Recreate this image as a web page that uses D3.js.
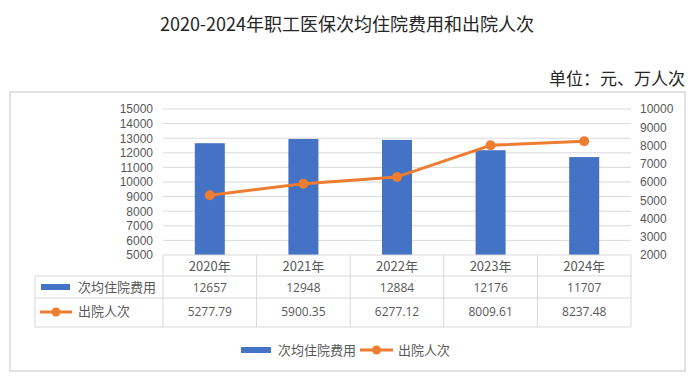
<!DOCTYPE html>
<html><head><meta charset="utf-8">
<script src="https://cdn.jsdelivr.net/npm/d3@7"></script>
<style>body{margin:0;background:#fff;}svg{display:block;}</style>
</head><body>
<svg id="c" width="694" height="378"></svg>
<script>
const categories = ["2020年","2021年","2022年","2023年","2024年"];
const costValues = [12657, 12948, 12884, 12176, 11707];
const dischargeValues = [5277.79, 5900.35, 6277.12, 8009.61, 8237.48];
const costLabels = ["12657","12948","12884","12176","11707"];
const dischargeLabels = ["5277.79","5900.35","6277.12","8009.61","8237.48"];
const leftTicks = d3.range(5000, 15001, 1000);
const rightTicks = d3.range(2000, 10001, 1000);
const seriesNames = ["次均住院费用","出院人次"];

const svg = d3.select("#c");
const blue = "#4472C4", orange = "#ED7D31", grid = "#d9d9d9", txt = "#595959";
const numFont = "'Open Sans', sans-serif";
const axisFont = "'Liberation Sans', Arial, sans-serif";
const cjkFont = "'Noto Sans CJK SC', sans-serif";

// title
svg.append("text").attr("x", 347).attr("y", 31).attr("text-anchor","middle")
  .attr("font-family", cjkFont).attr("font-size", 18).attr("fill","#262626")
  .text("2020-2024年职工医保次均住院费用和出院人次");
svg.append("text").attr("x", 685).attr("y", 85).attr("text-anchor","end")
  .attr("font-family", cjkFont).attr("font-size", 17).attr("fill","#262626")
  .text("单位：元、万人次");

// frame
svg.append("rect").attr("x", 10).attr("y", 92).attr("width", 675).attr("height", 279)
  .attr("fill","none").attr("stroke","#d9d9d9").attr("stroke-width",1.5);

const x = d3.scaleBand().domain(categories).range([163, 631]).paddingInner(0).paddingOuter(0);
const yL = d3.scaleLinear().domain([5000, 15000]).range([255, 109]);
const yR = d3.scaleLinear().domain([2000, 10000]).range([255, 109]);

// gridlines
svg.append("g").selectAll("line").data(leftTicks.slice(1)).join("line")
  .attr("x1", 163).attr("x2", 631).attr("y1", d => yL(d)).attr("y2", d => yL(d))
  .attr("stroke", grid).attr("stroke-width", 1);

// left axis
const gL = svg.append("g").attr("transform","translate(163,0)")
  .call(d3.axisLeft(yL).tickValues(leftTicks).tickSize(0).tickPadding(10).tickFormat(d3.format("d")));
gL.select(".domain").remove();
gL.selectAll("text").attr("font-family", axisFont).attr("font-size", 12).attr("fill", txt);

// right axis
const gR = svg.append("g").attr("transform","translate(631,0)")
  .call(d3.axisRight(yR).tickValues(rightTicks).tickSize(0).tickPadding(9).tickFormat(d3.format("d")));
gR.select(".domain").remove();
gR.selectAll("text").attr("font-family", axisFont).attr("font-size", 12).attr("fill", txt);

// bars
const bw = 30;
svg.append("g").selectAll("rect").data(costValues).join("rect")
  .attr("x", (d,i) => x(categories[i]) + x.bandwidth()/2 - bw/2)
  .attr("width", bw)
  .attr("y", d => yL(d)).attr("height", d => yL(5000) - yL(d))
  .attr("fill", blue);

// line
const line = d3.line().x((d,i) => x(categories[i]) + x.bandwidth()/2).y(d => yR(d));
svg.append("path").datum(dischargeValues).attr("d", line)
  .attr("fill","none").attr("stroke", orange).attr("stroke-width", 3).attr("stroke-linejoin","round");
svg.append("g").selectAll("circle").data(dischargeValues).join("circle")
  .attr("cx", (d,i) => x(categories[i]) + x.bandwidth()/2).attr("cy", d => yR(d))
  .attr("r", 5).attr("fill", orange);

// data table
const rowY = [255, 276, 298, 327];
const tg = svg.append("g").attr("stroke", grid).attr("stroke-width", 1);
tg.append("line").attr("x1",163).attr("x2",631).attr("y1",rowY[0]).attr("y2",rowY[0]);
[1,2,3].forEach(r => tg.append("line").attr("x1",35).attr("x2",631).attr("y1",rowY[r]).attr("y2",rowY[r]));
tg.append("line").attr("x1",35).attr("x2",35).attr("y1",rowY[1]).attr("y2",rowY[3]);
const colEdges = categories.map(c => x(c)).concat([631]);
colEdges.forEach(cx => tg.append("line").attr("x1",cx).attr("x2",cx).attr("y1",rowY[0]).attr("y2",rowY[3]));

const cellText = (arr, yb, font, size) => svg.append("g").selectAll("text").data(arr).join("text")
  .attr("x", (d,i) => x(categories[i]) + x.bandwidth()/2).attr("y", yb)
  .attr("text-anchor","middle").attr("font-family", font).attr("font-size", size).attr("fill", txt)
  .text(d => d);
cellText(categories, 271, cjkFont, 13);
cellText(costLabels, 292, numFont, 12);
cellText(dischargeLabels, 316, numFont, 12);

// table legend keys
svg.append("rect").attr("x", 41).attr("y", 284).attr("width", 29).attr("height", 6).attr("fill", blue);
svg.append("line").attr("x1", 40).attr("x2", 72).attr("y1", 312).attr("y2", 312).attr("stroke", orange).attr("stroke-width", 3);
svg.append("circle").attr("cx", 56).attr("cy", 312).attr("r", 4.5).attr("fill", orange);
svg.append("text").attr("x", 78).attr("y", 292).attr("font-family", cjkFont).attr("font-size", 13).attr("fill", txt).text(seriesNames[0]);
svg.append("text").attr("x", 78).attr("y", 316).attr("font-family", cjkFont).attr("font-size", 13).attr("fill", txt).text(seriesNames[1]);

// bottom legend
svg.append("rect").attr("x", 241).attr("y", 347).attr("width", 30).attr("height", 6).attr("fill", blue);
svg.append("text").attr("x", 278).attr("y", 355).attr("font-family", cjkFont).attr("font-size", 13).attr("fill", txt).text(seriesNames[0]);
svg.append("line").attr("x1", 360).attr("x2", 393).attr("y1", 350).attr("y2", 350).attr("stroke", orange).attr("stroke-width", 3);
svg.append("circle").attr("cx", 376.5).attr("cy", 350).attr("r", 4.5).attr("fill", orange);
svg.append("text").attr("x", 398).attr("y", 355).attr("font-family", cjkFont).attr("font-size", 13).attr("fill", txt).text(seriesNames[1]);
</script>
</body></html>
